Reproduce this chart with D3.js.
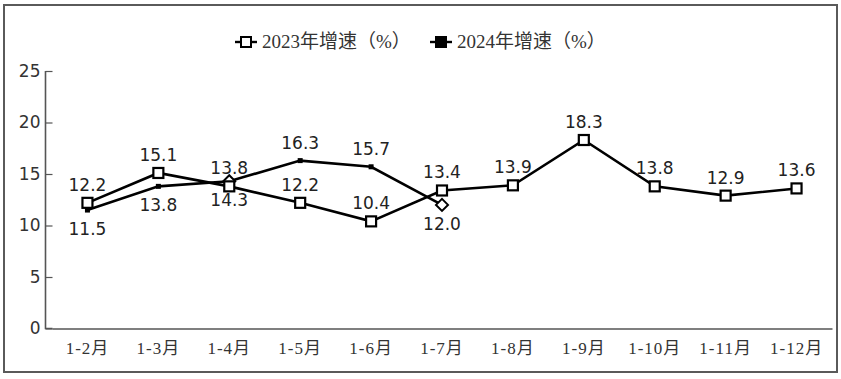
<!DOCTYPE html>
<html><head><meta charset="utf-8">
<script src="https://cdn.jsdelivr.net/npm/d3@7/dist/d3.min.js"></script>
<style>body{margin:0;background:#fff}</style>
</head><body>
<script>
const categories = ["1-2月","1-3月","1-4月","1-5月","1-6月","1-7月","1-8月","1-9月","1-10月","1-11月","1-12月"];
const series2023 = [12.2,15.1,13.8,12.2,10.4,13.4,13.9,18.3,13.8,12.9,13.6];
const series2024 = [11.5,13.8,14.3,16.3,15.7,12.0];
const markers2024 = ["dot","dot","diamond","dot","dot","diamond"];
const labelPos2023 = ["above","above","above","above","above","above","above","above","above","above","above"];
const labelPos2024 = ["below","below","below","above","above","below"];
const yTicks = [0,5,10,15,20,25];
const legendLabels = ["2023年增速（%）","2024年增速（%）"];

const W=841,H=379;
const svg=d3.select("body").append("svg").attr("width",W).attr("height",H);
svg.append("rect").attr("x",4).attr("y",5).attr("width",833).attr("height",367)
  .attr("fill","#fff").attr("stroke","#5a5a5a").attr("stroke-width",2);

const x=d3.scaleBand().domain(categories).range([52,832]);
const y=d3.scaleLinear().domain([0,25]).range([328.5,71]);
const cx=d=>x(d)+x.bandwidth()/2;

const numFont="'DejaVu Sans', Verdana, sans-serif";
const serifFont="'Liberation Serif','Noto Sans CJK SC',serif";

// axes
const ya=svg.append("g").attr("transform","translate(52.5,0)")
  .call(d3.axisLeft(y).tickValues(yTicks).tickSize(7).tickPadding(5).tickFormat(d3.format("d")));
ya.select(".domain").attr("stroke","#555").attr("stroke-width",1.6).attr("d","M-7,71V328.5H0");
ya.selectAll(".tick line").attr("stroke","#555").attr("stroke-width",1.2);
ya.selectAll(".tick text").attr("font-family",numFont).attr("font-size",17).attr("fill","#333");

const xa=svg.append("g").attr("transform","translate(0,328.5)")
  .call(d3.axisBottom(x).tickSize(0).tickPadding(13));
xa.select(".domain").attr("stroke","#555").attr("stroke-width",1.6);
xa.selectAll(".tick text").attr("font-family",serifFont).attr("font-size",17)
  .attr("letter-spacing",1).attr("fill","#333");

const line=d3.line().x((d,i)=>cx(categories[i])).y(d=>y(d));

// 2024 line
svg.append("path").datum(series2024).attr("d",line).attr("fill","none")
  .attr("stroke","#000").attr("stroke-width",2.6);
// 2023 line
svg.append("path").datum(series2023).attr("d",line).attr("fill","none")
  .attr("stroke","#000").attr("stroke-width",2.6);

// 2024 markers
series2024.forEach((v,i)=>{
  const px=cx(categories[i]),py=y(v);
  if(markers2024[i]==="diamond"){
    svg.append("path").attr("d",`M${px},${py-6}L${px+6},${py}L${px},${py+6}L${px-6},${py}Z`)
      .attr("fill","#fff").attr("stroke","#000").attr("stroke-width",2);
  } else {
    svg.append("rect").attr("x",px-2.5).attr("y",py-2.5).attr("width",5).attr("height",5).attr("fill","#000");
  }
});
// 2023 markers
series2023.forEach((v,i)=>{
  const px=cx(categories[i]),py=y(v);
  svg.append("rect").attr("x",px-5).attr("y",py-5).attr("width",10).attr("height",10)
    .attr("fill","#fff").attr("stroke","#000").attr("stroke-width",2.2);
});

// labels
function addLabels(data,pos){
  data.forEach((v,i)=>{
    const px=cx(categories[i]),py=y(v);
    svg.append("text").attr("x",px).attr("y",pos[i]==="above"?py-12:py+25)
      .attr("text-anchor","middle").attr("font-family",numFont).attr("font-size",17)
      .attr("fill","#222").text(v.toFixed(1));
  });
}
addLabels(series2023,labelPos2023);
addLabels(series2024,labelPos2024);

// legend
const leg=[{lx:246,fill:"#fff"},{lx:441,fill:"#000"}];
leg.forEach((l,i)=>{
  const g=svg.append("g");
  g.append("line").attr("x1",l.lx-11).attr("x2",l.lx+11).attr("y1",42).attr("y2",42).attr("stroke","#000").attr("stroke-width",2.4);
  g.append("rect").attr("x",l.lx-5).attr("y",37).attr("width",10).attr("height",10)
    .attr("fill",l.fill).attr("stroke","#000").attr("stroke-width",2);
  g.append("text").attr("x",l.lx+16).attr("y",48).attr("font-family",serifFont).attr("font-size",19)
    .attr("fill","#333").text(legendLabels[i]);
});
</script>
</body></html>
